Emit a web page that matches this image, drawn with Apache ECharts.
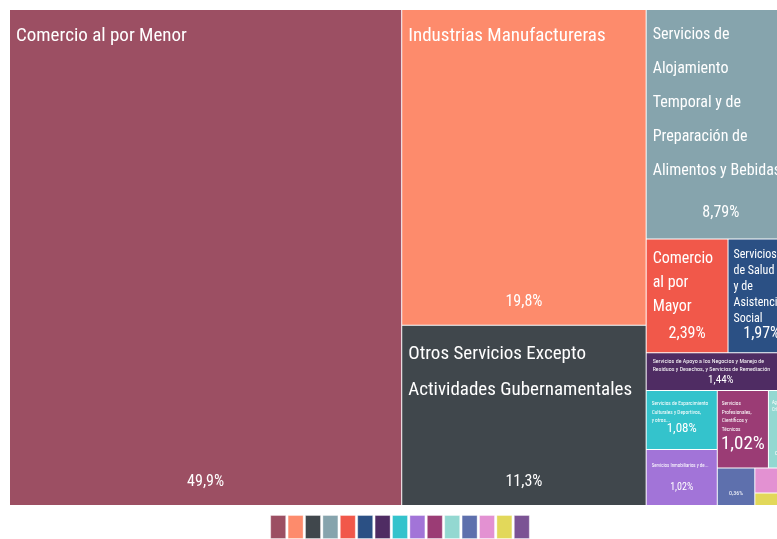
<!DOCTYPE html>
<html>
<head>
<meta charset="utf-8">
<script src="https://cdn.jsdelivr.net/npm/echarts@6/dist/echarts.min.js"></script>
<title>Treemap sectores</title>
<style>
  html, body { margin: 0; padding: 0; overflow: hidden; background: #fff; }
  #main { width: 800px; height: 539px; }
</style>
</head>
<body>
<div id="main"></div>
<script type="text/javascript">
// datos
var sectores = [
  'Comercio al por Menor',
  'Industrias Manufactureras',
  'Otros Servicios Excepto Actividades Gubernamentales',
  'Servicios de Alojamiento Temporal y de Preparación de Alimentos y Bebidas',
  'Comercio al por Mayor',
  'Servicios de Salud y de Asistencia Social',
  'Servicios de Apoyo a los Negocios y Manejo de Residuos y Desechos, y Servicios de Remediación',
  'Servicios de Esparcimiento Culturales y Deportivos, y otros Servicios Recreativos',
  'Servicios Inmobiliarios y de Alquiler de Bienes Muebles e Intangibles',
  'Servicios Profesionales, Científicos y Técnicos',
  'Agricultura, Cría y Explotación de Animales, Aprovechamiento Forestal, Pesca y Caza',
  'Servicios Educativos',
  'Transportes, Correos y Almacenamiento',
  'Servicios Financieros y de Seguros',
  'Información en Medios Masivos'
];
var participacion = [49.9, 19.8, 11.3, 8.79, 2.39, 1.97, 1.44, 1.08, 1.02, 1.02, 0.54, 0.36, 0.24, 0.12, 0.03];
var colores = ['#9c4f63', '#fd8b6c', '#40474c', '#86a4ad', '#f1584a', '#2b5084', '#4f2c63',
  '#34c3cc', '#a274d8', '#9b3c75', '#93d8d1', '#5e70ad', '#e391d2', '#e2d85a', '#7b5394'];
// rótulos como aparecen cortados en el original
var rotulos = [
  'Comercio al por Menor',
  'Industrias Manufactureras',
  'Otros Servicios Excepto\nActividades Gubernamentales',
  'Servicios de\nAlojamiento\nTemporal y de\nPreparación de\nAlimentos y Bebidas',
  'Comercio\nal por\nMayor',
  'Servicios\nde Salud\ny de\nAsistencia\nSocial',
  'Servicios de Apoyo a los Negocios y Manejo de\nResiduos y Desechos, y Servicios de Remediación',
  'Servicios de Esparcimiento\nCulturales y Deportivos,\ny otros...',
  'Servicios Inmobiliarios y de...',
  'Servicios\nProfesionales,\nCientíficos y\nTécnicos',
  'Agricultura,\nCría y...',
  '', '', '', ''
];
// agrupación de bloques (índices de sectores)
var bloques = [0, [1, 2], [3, [4, 5, 6], [7, 8, 9, 10, 11, 12, 13, 14]]];

// estilos de texto por bloque
var estiloNombre = [
  { size: 19, lh: 30, pad: [11, 6, 0, 6] },
  { size: 19, lh: 30, pad: [11, 6, 0, 6] },
  { size: 19, lh: 36, pad: [10, 6, 0, 6] },
  { size: 16, lh: 34, pad: [8, 6, 0, 6] },
  { size: 16, lh: 24, pad: [8, 6, 0, 6] },
  { size: 12, lh: 16, pad: [8, 5, 0, 5] },
  { size: 6, lh: 8, pad: [4, 6, 0, 6] },
  { size: 5.3, lh: 8.5, pad: [9, 5, 0, 5] },
  { size: 4.9, lh: 8.5, pad: [11, 5, 0, 5] },
  { size: 5.3, lh: 8.5, pad: [9, 4, 0, 4] },
  { size: 4.5, lh: 7.5, pad: [8, 2, 0, 3] }
];
var estiloValor = [
  { size: 16, dist: 14 }, { size: 16, dist: 14 }, { size: 16, dist: 14 }, { size: 16, dist: 16 },
  { size: 16, dist: 9 }, { size: 16, dist: 9 }, { size: 11, dist: 3 }, { size: 13, dist: 13 },
  { size: 10, dist: 12 }, { size: 19, dist: 13 }, { size: 6, dist: 10 }, { size: 6, dist: 8 }
];

var fuente = "'Roboto Condensed', 'Roboto', 'Liberation Sans', sans-serif";

function pct(v) {
  return String(v).replace('.', ',') + '%';
}

// construye el árbol; capa 'nombre' pinta los bloques, capa 'valor' solo los porcentajes
function nodo(b, capa) {
  if (Array.isArray(b)) {
    return { name: '', children: b.map(function (x) { return nodo(x, capa); }) };
  }
  var i = b;
  var item = { name: sectores[i], value: participacion[i] };
  if (capa === 'nombre') {
    var e = estiloNombre[i];
    item.itemStyle = { color: colores[i] };
    item.label = e ? {
      show: true, formatter: rotulos[i], fontSize: e.size, lineHeight: e.lh, padding: e.pad
    } : { show: false };
  } else {
    var v = estiloValor[i];
    item.itemStyle = { color: 'rgba(0,0,0,0)' };
    item.label = v ? {
      show: true, formatter: pct(participacion[i]), fontSize: v.size, lineHeight: v.size + 2, distance: v.dist
    } : { show: false };
  }
  return item;
}

var base = {
  type: 'treemap',
  left: 10,
  top: 10,
  width: 785,
  height: 495,
  roam: false,
  nodeClick: false,
  sort: false,
  squareRatio: 0.5 * (1 + Math.sqrt(5)),
  breadcrumb: { show: false },
  upperLabel: { show: false },
  emphasis: { disabled: true },
  animation: false
};

var textoBase = { color: '#fff', fontFamily: fuente, overflow: 'truncate' };

var myChart = echarts.init(document.getElementById('main'));

var option = {
  backgroundColor: '#fff',
  legend: {
    bottom: 0,
    left: 'center',
    padding: 0,
    icon: 'rect',
    itemWidth: 15,
    itemHeight: 23,
    itemGap: 1.4,
    selectedMode: false,
    formatter: function () { return ''; },
    itemStyle: { borderWidth: 1, borderColor: 'rgba(255,255,255,0.35)' },
    data: sectores
  },
  series: [
    Object.assign({}, base, {
      itemStyle: { borderWidth: 0, gapWidth: 1, borderColor: '#fff' },
      label: Object.assign({ show: true, position: 'insideTopLeft', distance: 0 }, textoBase),
      data: bloques.map(function (b) { return nodo(b, 'nombre'); })
    }),
    Object.assign({}, base, {
      silent: true,
      itemStyle: { borderWidth: 0, gapWidth: 1, borderColor: 'rgba(0,0,0,0)', color: 'rgba(0,0,0,0)' },
      label: Object.assign({ show: true, position: 'insideBottom', padding: 0 }, textoBase),
      data: bloques.map(function (b) { return nodo(b, 'valor'); })
    }),
    {
      type: 'pie',
      radius: 0,
      silent: true,
      label: { show: false },
      labelLine: { show: false },
      data: sectores.map(function (n, i) {
        return { name: n, value: participacion[i], itemStyle: { color: colores[i] } };
      })
    }
  ]
};

myChart.setOption(option);

window.onresize = function () {
  myChart.resize();
};
</script>
</body>
</html>
